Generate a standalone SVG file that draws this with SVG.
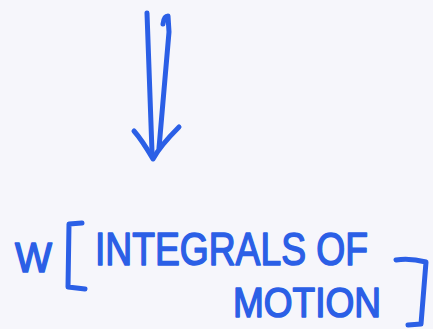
<svg xmlns="http://www.w3.org/2000/svg" width="433" height="329" viewBox="0 0 433 329">
<style>
.ink{fill:none;stroke:#2b5fe6;stroke-width:5;stroke-linecap:round;stroke-linejoin:round}
.t{font-family:"Liberation Sans",Arial,sans-serif;fill:#2b5fe6;stroke:#2b5fe6;stroke-width:1.6;stroke-linejoin:round}
</style>
<rect width="433" height="329" fill="#f6f6fb"/>
<g id="connectors">
<path class="ink" d="M147,13 L152,152"/>
<path class="ink" d="M163,24 Q164,16 168,16 L169,32 L159,148"/>
<path class="ink" d="M134,131 Q142,140 153,159 Q160,146 179,127"/>
</g>
<g id="label">
<text class="t" x="15" y="272" font-size="42" textLength="37" lengthAdjust="spacingAndGlyphs">W</text>
<path class="ink" d="M82,223 L69,224 L68,287 L85,289"/>
<text class="t" x="95" y="265" font-size="46" textLength="273" lengthAdjust="spacingAndGlyphs">INTEGRALS OF</text>
<text class="t" x="233" y="317" font-size="42" textLength="148" lengthAdjust="spacingAndGlyphs">MOTION</text>
<path class="ink" d="M396,260 Q410,258 426,262 L421,324 L408,325"/>
</g>
</svg>
